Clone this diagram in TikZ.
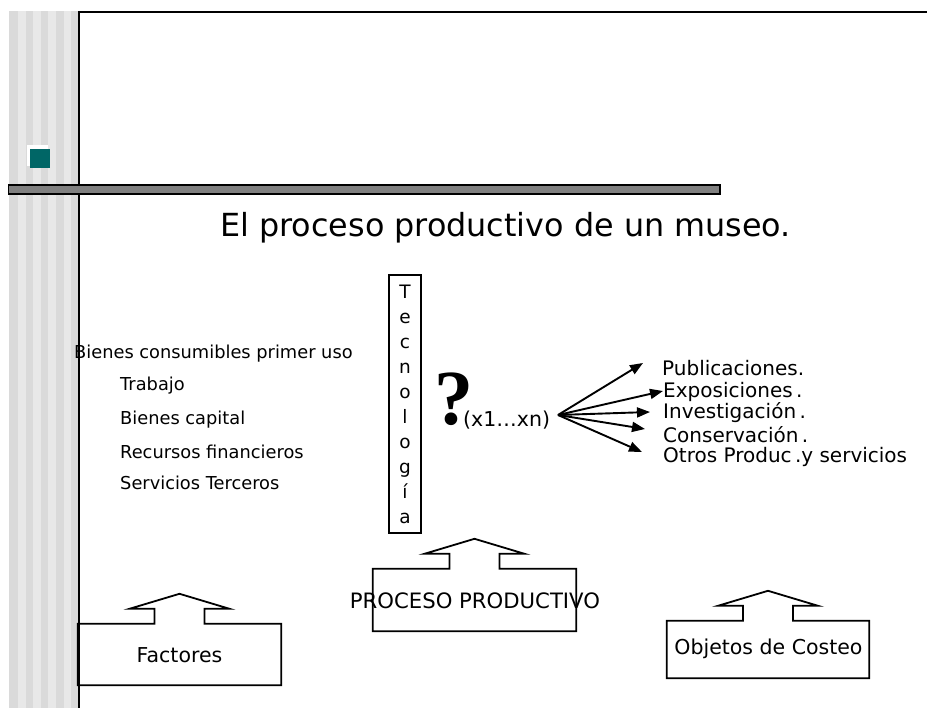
\documentclass[tikz,border=0pt]{standalone}
\usepackage{fontspec}
\setmainfont{DejaVu Sans}
\newfontfamily\qfont{Liberation Serif}
\usetikzlibrary{arrows.meta,calc}
\definecolor{stD}{RGB}{218,218,218}
\definecolor{stL}{RGB}{232,232,232}
\definecolor{tealsq}{RGB}{0,102,102}
\definecolor{barGray}{RGB}{128,128,128}
\tikzset{
  outl/.style={draw=black, line width=1.8pt, line join=miter},
  lbl/.style={inner sep=0pt, text=black},
  boxsh/.style={inner sep=0pt},
  fanarrow/.style={line width=1.9pt, -{Triangle[length=13pt,width=10pt]}},
}
\newcommand\upblock[1]{%
  \draw[outl] (#1.north west) -- ([xshift=-25pt]#1.north) -- ([shift={(-25pt,15pt)}]#1.north)
    -- ([shift={(-50pt,15pt)}]#1.north) -- ([yshift=30pt]#1.north)
    -- ([shift={(50pt,15pt)}]#1.north) -- ([shift={(25pt,15pt)}]#1.north)
    -- ([xshift=25pt]#1.north) -- (#1.north east) -- (#1.south east)
    -- (#1.south west) -- cycle;}
\begin{document}
\begin{tikzpicture}[x=1pt,y=-1pt]
\useasboundingbox (0,0) rectangle (927,708);
\fill[white] (0,0) rectangle (927,708);
% striped band
\foreach \a/\b/\c in {9/18/stD,18/26/stL,26/33/stD,33/41/stL,41/48/stD,48/56/stL,56/64/stD,64/71/stL,71/79/stD}
  \fill[\c] (\a,11) rectangle (\b,708);
% frame lines
\draw[line width=2pt] (79,11) -- (79,708);
\draw[line width=2pt] (78,12) -- (927,12);
% teal bullet
\fill[white] (27,145) rectangle (48,166);
\fill[tealsq] (30,149) rectangle (50,168);
% bar
\draw[line width=1.5pt, fill=barGray] (8.5,185) rectangle (720,194);
% title
\node[lbl, anchor=base, font=\fontsize{31.8}{36}\selectfont] (title) at (505.5,237) {El proceso productivo de un museo.};
% left list
\begin{scope}[every node/.style={lbl, anchor=west, font=\fontsize{17.8}{20}\selectfont}]
\node (f1) at (74,354) {Bienes consumibles primer uso};
\node (f2) at (120,386) {Trabajo};
\node (f3) at (120,420) {Bienes capital};
\node (f4) at (120,452) {Recursos financieros};
\node (f5) at (120,483) {Servicios Terceros};
\end{scope}
% technology box
\node[draw, line width=1.6pt, minimum width=32pt, minimum height=258pt, inner sep=0pt, align=center,
      font=\fontsize{18.5}{25}\selectfont] (tec) at (405,404) {T\\e\\c\\n\\o\\l\\o\\g\\í\\a};
% question mark and variables
\node[lbl, anchor=base, font=\qfont\bfseries\fontsize{78}{90}\selectfont] (q) at (454,425) {?};
\node[lbl, anchor=base west, font=\fontsize{20.5}{22}\selectfont] (xs) at (463,427) {(x1…xn)};
% fan of arrows
\coordinate (o) at (558,415);
\coordinate (t1) at (643,363);
\coordinate (t2) at (663,391);
\coordinate (t3) at (650,412);
\coordinate (t4) at (645,429);
\coordinate (t5) at (642,452);
\foreach \t in {t1,t2,t3,t4,t5} \draw[fanarrow] (o) -- (\t);
\begin{scope}[every node/.style={lbl, anchor=west, font=\fontsize{20}{22}\selectfont}]
\node (p1) at (662,368) {Publicaciones.};
\node (p2) at (663,392) {Exposiciones\,.};
\node (p3) at (663,413) {Investigación\,.};
\node (p4) at (663,435) {Conservación\,.};
\node (p5) at (663,457) {Otros Produc\,.y servicios};
\end{scope}
% bottom boxes with block arrows
\node[boxsh, minimum width=203pt, minimum height=61pt] (fac) at (179.5,654.5) {};
\upblock{fac}
\node[lbl, font=\fontsize{20.5}{24}\selectfont] (facT) at (179.5,655) {Factores};
\node[boxsh, minimum width=203pt, minimum height=62pt] (pp) at (474.5,600) {};
\upblock{pp}
\node[lbl, font=\fontsize{21.2}{24}\selectfont] (ppT) at (475,601) {PROCESO PRODUCTIVO};
\node[boxsh, minimum width=202pt, minimum height=57pt] (oc) at (768,649.5) {};
\upblock{oc}
\node[lbl, font=\fontsize{20.5}{24}\selectfont] (ocT) at (768.5,649) {Objetos de Costeo};
\end{tikzpicture}
\end{document}
